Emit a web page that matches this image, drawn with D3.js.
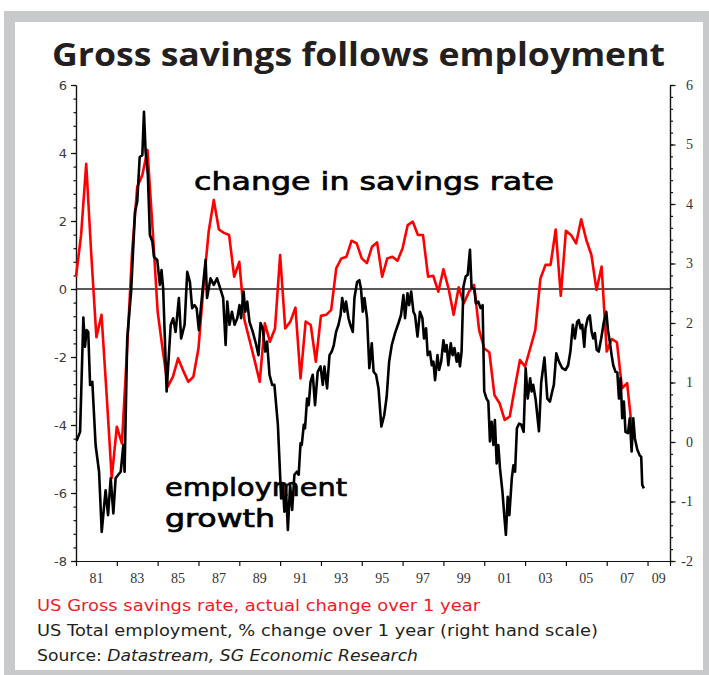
<!DOCTYPE html>
<html>
<head>
<meta charset="utf-8">
<script src="https://cdn.jsdelivr.net/npm/d3@7"></script>
<style>
  html, body { margin: 0; padding: 0; background: #fff; }
  svg { display: block; }
</style>
</head>
<body>
<svg id="chart" width="709" height="675"></svg>
<script>
// US gross savings rate, change over 1 year (percentage points), quarterly from 1980 Q1
const savingsStartYear = 1980;
const savingsChange = [
  0.36, 1.59, 3.68, 1.0,
  -1.42, -0.76, -3.1, -5.56,
  -4.05, -4.54, -1.8, 1.10,
  3.01, 3.35, 4.09, 1.8,
  -0.67, -1.8, -2.87, -2.58,
  -2.04, -2.4, -2.73, -2.58,
  -1.75, 0.1, 1.69, 2.62,
  1.75, 1.65, 1.59, 0.36,
  0.80, -0.9, -1.5, -2.1,
  -2.73, -1.01, -1.55, -1.16,
  1.0, -1.16, -0.96, -0.55,
  -2.63, -0.96, -1.06, -2.14,
  -0.79, -0.76, -0.62, 0.61,
  0.90, 0.95, 1.42, 1.34,
  0.90, 0.76, 1.24, 1.37,
  0.36, 0.90, 0.95, 0.83,
  1.20, 1.88, 1.98, 1.59,
  1.59, 0.36, 0.39, -0.08,
  0.58, 0.02, -0.76, 0.05,
  -0.42, -0.08, 0.12, -1.21,
  -1.75, -1.86, -3.12, -3.36,
  -3.85, -3.75, -2.9, -2.09,
  -2.28, -1.75, -1.21, 0.30,
  0.71, 0.71, 1.75, -0.20,
  1.71, 1.59, 1.34, 2.05,
  1.44, 1.0, -0.03, 0.66,
  -1.84, -1.47, -1.57, -2.92,
  -2.77, -4.2
];

// US total employment, % change over 1 year (right hand scale)
const employmentDates = [
  1980.03, 1980.2, 1980.36, 1980.44, 1980.52, 1980.6, 1980.69, 1980.8, 1980.96,
  1981.13, 1981.26, 1981.45, 1981.57, 1981.7, 1981.83, 1981.94,
  1982.07, 1982.19, 1982.32, 1982.38, 1982.51, 1982.7, 1982.89,
  1983.0, 1983.12, 1983.25, 1983.33, 1983.41, 1983.52, 1983.62, 1983.74, 1983.82, 1983.98,
  1984.11, 1984.19, 1984.27, 1984.44, 1984.64, 1984.76, 1984.88,
  1985.04, 1985.15, 1985.32, 1985.45, 1985.58, 1985.69, 1985.81, 1985.91,
  1986.02, 1986.13, 1986.35, 1986.42, 1986.59, 1986.75, 1986.91,
  1987.11, 1987.21, 1987.33, 1987.41, 1987.52, 1987.64, 1987.77, 1987.9,
  1988.01, 1988.09, 1988.21, 1988.29, 1988.39, 1988.5, 1988.66, 1988.83, 1988.94,
  1989.04, 1989.15, 1989.27, 1989.36, 1989.48, 1989.61, 1989.72, 1989.89,
  1990.05, 1990.13, 1990.21, 1990.3, 1990.38, 1990.49, 1990.59, 1990.7, 1990.82, 1990.91,
  1991.0, 1991.06, 1991.16, 1991.22, 1991.32, 1991.4, 1991.49, 1991.6, 1991.71, 1991.84, 1991.98,
  1992.09, 1992.17, 1992.3, 1992.42, 1992.53, 1992.63, 1992.74, 1992.86, 1992.96,
  1993.04, 1993.15, 1993.23, 1993.35, 1993.44, 1993.56, 1993.64, 1993.77, 1993.88, 1993.96,
  1994.05, 1994.13, 1994.26, 1994.37, 1994.49, 1994.58, 1994.7, 1994.82, 1994.96,
  1995.1, 1995.22, 1995.34, 1995.47, 1995.63, 1995.8, 1995.92,
  1996.04, 1996.12, 1996.24, 1996.32, 1996.42, 1996.53, 1996.61, 1996.73, 1996.85, 1996.97,
  1997.05, 1997.15, 1997.23, 1997.34, 1997.43, 1997.51, 1997.59, 1997.71, 1997.79, 1997.89,
  1998.0, 1998.08, 1998.16, 1998.24, 1998.36, 1998.45, 1998.54, 1998.65, 1998.73, 1998.81, 1998.89, 1998.98,
  1999.09, 1999.19, 1999.3, 1999.38, 1999.51, 1999.59, 1999.71, 1999.82, 1999.92,
  2000.0, 2000.11, 2000.2, 2000.28, 2000.36, 2000.45, 2000.52, 2000.61, 2000.69, 2000.77, 2000.89, 2000.98,
  2001.06, 2001.15, 2001.23, 2001.35, 2001.43, 2001.51, 2001.6, 2001.71, 2001.81, 2001.93,
  2002.03, 2002.13, 2002.25, 2002.32, 2002.4, 2002.52, 2002.68, 2002.79, 2002.95,
  2003.09, 2003.22, 2003.33, 2003.41, 2003.53, 2003.66, 2003.82, 2003.98,
  2004.11, 2004.22, 2004.34, 2004.44, 2004.55, 2004.63, 2004.72, 2004.8, 2004.9, 2004.96,
  2005.07, 2005.17, 2005.26, 2005.34, 2005.42, 2005.51, 2005.61, 2005.73, 2005.86, 2005.98,
  2006.06, 2006.14, 2006.24, 2006.32, 2006.43, 2006.52, 2006.6, 2006.68, 2006.76, 2006.84, 2006.92,
  2007.04, 2007.13, 2007.22, 2007.3, 2007.38, 2007.5, 2007.61, 2007.69, 2007.74, 2007.82
];
const employmentGrowth = [
  0.02, 0.17, 2.09, 1.60, 1.88, 1.85, 0.96, 1.01, -0.05,
  -0.50, -1.51, -0.81, -1.23, -0.61, -1.20, -0.61,
  -0.55, -0.50, -0.05, -0.50, 1.74, 2.53, 3.87,
  4.04, 4.79, 4.82, 5.55, 4.88, 4.49, 3.48, 3.37, 3.11, 3.06,
  2.64, 2.89, 2.58, 0.85, 1.97, 2.08, 1.85,
  2.42, 1.74, 1.97, 2.86, 2.69, 2.25, 2.30, 2.25,
  1.88, 2.30, 3.06, 2.42, 2.75, 2.64, 2.75,
  2.53, 2.42, 1.63, 2.36, 1.97, 2.19, 1.97, 2.08,
  2.30, 2.08, 2.53, 2.19, 2.36, 2.02, 1.85, 1.63, 1.46,
  2.0, 1.91, 1.52, 1.69, 1.13, 0.96, 0.96, 0.29,
  -0.95, -0.72, -1.17, -0.89, -1.48, -0.72, -1.14, -0.55, -0.50, -0.55,
  -0.02, -0.05, 0.29, 0.23, 0.73, 0.62, 1.01, 1.13, 0.62, 1.18, 1.27,
  0.96, 1.27, 0.90, 1.46, 1.52, 1.63, 1.85, 1.97, 2.13,
  2.42, 2.19, 2.36, 2.08, 1.97, 1.85, 2.42, 2.69, 2.72, 2.58,
  2.19, 2.42, 2.08, 1.24, 1.66, 1.18, 1.13, 0.90, 0.26,
  0.45, 0.76, 1.35, 1.63, 1.83, 2.0, 2.13,
  2.47, 2.08, 2.5, 2.30, 2.53, 2.19, 2.13, 1.77, 2.19, 2.08,
  1.74, 1.91, 1.46, 1.52, 1.29, 1.35, 1.04, 1.46, 1.21, 1.35,
  1.71, 1.52, 1.63, 1.29, 1.66, 1.46, 1.58, 1.35, 1.49, 1.27, 1.52, 2.61,
  2.78, 2.81, 3.23, 2.58, 2.58, 2.33, 2.36, 2.25, 2.30,
  0.85, 0.73, 0.68, 0.01, 0.34, -0.05, 0.37, -0.36, -0.05, -0.44, -0.83, -1.23,
  -1.56, -0.92, -1.23, -0.61, -0.39, -0.50, 0.23, 0.31, 0.29, 0.17,
  1.24, 0.73, 1.07, 0.85, 0.96, 0.71, 0.18, 1.0, 1.42,
  0.73, 0.68, 0.85, 0.96, 1.49, 1.35, 1.24, 1.21,
  1.29, 1.52, 1.97, 1.74, 2.02, 2.05, 1.91, 1.97, 1.60, 1.91,
  2.08, 2.13, 1.85, 1.74, 1.83, 1.55, 1.52, 1.74, 2.02, 2.19,
  1.88, 1.71, 1.46, 1.29, 1.18, 1.17, 0.73, 1.07, 0.40, 0.68, 0.17,
  0.15, 0.40, -0.16, 0.40, 0.06, -0.13, -0.22, -0.25, -0.72, -0.78
];

// Axis ticks and labels
const leftMajorTicks = [6, 4, 2, 0, -2, -4, -6, -8];
const rightMajorTicks = [6, 5, 4, 3, 2, 1, 0, -1, -2];
const yearTicks = [1980, 1982, 1984, 1986, 1988, 1990, 1992, 1994, 1996, 1998, 2000, 2002, 2004, 2006, 2008, 2009.1];
const yearTickLabels = ["81", "83", "85", "87", "89", "91", "93", "95", "97", "99", "01", "03", "05", "07", "09"];

const titleText = "Gross savings follows employment";
const noteSavings = "change in savings rate";
const noteEmployment = ["employment", "growth"];
const legendSavings = "US Gross savings rate, actual change over 1 year";
const legendEmployment = "US Total employment, % change over 1 year (right hand scale)";

const svg = d3.select("#chart");
const W = 709, H = 675;
const plot = { left: 76, right: 670, top: 85, bottom: 561 };

// frame
svg.append("rect").attr("x", 4).attr("y", 11).attr("width", W - 4).attr("height", H - 11).attr("fill", "#c8c9cb");
svg.append("rect").attr("x", 15).attr("y", 22).attr("width", 688).attr("height", 648).attr("fill", "#fff");

// title
svg.append("text")
  .attr("x", 52).attr("y", 66)
  .attr("textLength", 613).attr("lengthAdjust", "spacingAndGlyphs")
  .attr("font-family", "'Open Sans', 'DejaVu Sans', sans-serif")
  .attr("font-weight", 700).attr("font-size", 33)
  .attr("fill", "#231f20")
  .text(titleText);

// scales
const x = d3.scaleLinear().domain([1980, 2009.1]).range([plot.left, plot.right]);
const yL = d3.scaleLinear().domain([-8, 6]).range([plot.bottom, plot.top]);
const yR = d3.scaleLinear().domain([-2, 6]).range([plot.bottom, plot.top]);

// left axis: minor ticks every 0.4, labelled every 2
const leftMinor = d3.range(0, 36).map(i => +(-8 + i * 0.4).toFixed(2));
const gLm = svg.append("g").attr("transform", `translate(${plot.left},0)`)
  .call(d3.axisLeft(yL).tickValues(leftMinor).tickSize(2.5).tickSizeOuter(0).tickFormat(""));
const gL = svg.append("g").attr("transform", `translate(${plot.left},0)`)
  .call(d3.axisLeft(yL).tickValues(leftMajorTicks).tickSize(5).tickSizeOuter(0).tickPadding(4).tickFormat(d => d < 0 ? "-" + Math.abs(d) : String(d)));
gL.selectAll("text").attr("font-family", "'DejaVu Sans', sans-serif").attr("font-size", 13).attr("fill", "#3a3a3a");

// right axis: minor ticks every 0.2, labelled every 1
const rightMinor = d3.range(0, 41).map(i => +(-2 + i * 0.2).toFixed(2));
svg.append("g").attr("transform", `translate(${plot.right},0)`)
  .call(d3.axisRight(yR).tickValues(rightMinor).tickSize(3).tickSizeOuter(0).tickFormat(""));
const gR = svg.append("g").attr("transform", `translate(${plot.right},0)`)
  .call(d3.axisRight(yR).tickValues(rightMajorTicks).tickSize(5.5).tickSizeOuter(0).tickFormat(d => d < 0 ? "-" + Math.abs(d) : String(d)));
gR.selectAll("text").attr("text-anchor", "end").attr("x", 23)
  .attr("font-family", "'Liberation Serif', 'DejaVu Serif', serif").attr("font-size", 14).attr("fill", "#333");

// bottom axis
svg.append("g").attr("transform", `translate(0,${plot.bottom})`)
  .call(d3.axisBottom(x).tickValues(yearTicks).tickSize(5).tickSizeOuter(0).tickFormat(""));
svg.append("g").selectAll("text").data(yearTickLabels).join("text")
  .attr("x", (d, i) => (x(yearTicks[i]) + x(yearTicks[i + 1])) / 2)
  .attr("y", plot.bottom + 22)
  .attr("text-anchor", "middle")
  .attr("font-family", "'Liberation Serif', 'DejaVu Serif', serif").attr("font-size", 14).attr("fill", "#333")
  .text(d => d);

svg.selectAll(".domain, .tick line").attr("stroke", "#111").attr("stroke-width", 1.2);

// zero line of the left scale
svg.append("line")
  .attr("x1", plot.left).attr("x2", plot.right)
  .attr("y1", yL(0)).attr("y2", yL(0))
  .attr("stroke", "#222").attr("stroke-width", 1.3);

// series
const savingsLine = d3.line()
  .x((d, i) => x(savingsStartYear + i / 4))
  .y(d => yL(d));
svg.append("path").datum(savingsChange)
  .attr("d", savingsLine)
  .attr("fill", "none").attr("stroke", "#ff0000").attr("stroke-width", 2.6)
  .attr("stroke-linejoin", "round");

const employmentLine = d3.line()
  .x((d, i) => x(employmentDates[i]))
  .y(d => yR(d));
svg.append("path").datum(employmentGrowth)
  .attr("d", employmentLine)
  .attr("fill", "none").attr("stroke", "#000").attr("stroke-width", 2.6)
  .attr("stroke-linejoin", "round");

// hand-written style notes
const noteFont = "'DejaVu Sans', sans-serif";
svg.append("text")
  .attr("x", 194).attr("y", 190)
  .attr("textLength", 360).attr("lengthAdjust", "spacingAndGlyphs")
  .attr("font-family", noteFont).attr("font-size", 25)
  .attr("fill", "#000").attr("stroke", "#000").attr("stroke-width", 0.7)
  .text(noteSavings);
svg.append("text")
  .attr("x", 165).attr("y", 496)
  .attr("textLength", 182).attr("lengthAdjust", "spacingAndGlyphs")
  .attr("font-family", noteFont).attr("font-size", 25)
  .attr("fill", "#000").attr("stroke", "#000").attr("stroke-width", 0.7)
  .text(noteEmployment[0]);
svg.append("text")
  .attr("x", 165).attr("y", 527)
  .attr("textLength", 110).attr("lengthAdjust", "spacingAndGlyphs")
  .attr("font-family", noteFont).attr("font-size", 25)
  .attr("fill", "#000").attr("stroke", "#000").attr("stroke-width", 0.7)
  .text(noteEmployment[1]);

// legend and source
const legendFont = "'DejaVu Sans', sans-serif";
svg.append("text")
  .attr("x", 37).attr("y", 611)
  .attr("textLength", 443).attr("lengthAdjust", "spacingAndGlyphs")
  .attr("font-family", legendFont).attr("font-size", 16.5)
  .attr("fill", "#ee1c25")
  .text(legendSavings);
svg.append("text")
  .attr("x", 37).attr("y", 636)
  .attr("textLength", 561).attr("lengthAdjust", "spacingAndGlyphs")
  .attr("font-family", legendFont).attr("font-size", 16.5)
  .attr("fill", "#231f20")
  .text(legendEmployment);
const src = svg.append("text")
  .attr("x", 37).attr("y", 661)
  .attr("textLength", 381).attr("lengthAdjust", "spacingAndGlyphs")
  .attr("font-family", legendFont).attr("font-size", 16.5)
  .attr("fill", "#231f20");
src.append("tspan").text("Source: ");
src.append("tspan").attr("font-style", "italic").text("Datastream, SG Economic Research");
</script>
</body>
</html>
